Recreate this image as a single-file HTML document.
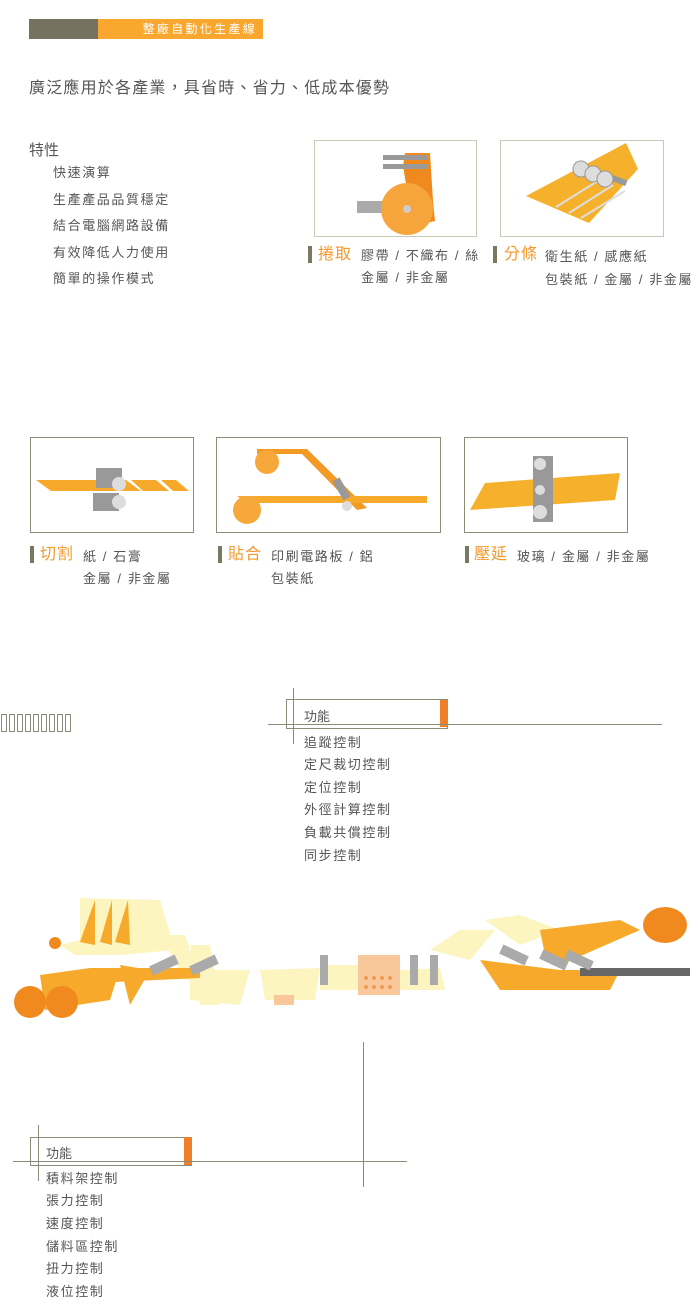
<!DOCTYPE html>
<html><head><meta charset="utf-8"><style>
body{margin:0;width:700px;height:1307px;background:#fff;position:relative;overflow:hidden;font-family:"Liberation Sans","Noto Sans CJK TC",sans-serif;color:#555}
.a{position:absolute;white-space:nowrap}
.s{font-size:13px;line-height:13px;letter-spacing:1.6px}
.box{position:absolute;border:1px solid #c9c9b9;background:#fff}
.box2{position:absolute;border:1px solid #8c8a78;background:#fff}
.bar{position:absolute;width:4px;height:17px;background:#7a7862}
.lab{position:absolute;font-size:16px;color:#f39a2e;line-height:17px;letter-spacing:1px}
.ln{position:absolute;background:#8c8a78}
</style></head><body>
<div class="a" style="left:29px;top:19px;width:69px;height:20px;background:#777160"></div>
<div class="a" style="left:98px;top:19px;width:165px;height:20px;background:#f9a72f;color:#fff;font-size:12px;line-height:20px;text-align:right;box-sizing:border-box;padding-right:6px;letter-spacing:2.3px">整廠自動化生產線</div>
<div class="a" style="left:29px;top:74px;font-size:16px;letter-spacing:1.2px">廣泛應用於各產業，具省時、省力、低成本優勢</div>
<div class="a" style="left:29px;top:139px;font-size:15px">特性</div>
<div class="a s" style="left:53px;top:166px">快速演算</div>
<div class="a s" style="left:53px;top:193px">生產產品品質穩定</div>
<div class="a s" style="left:53px;top:219px">結合電腦網路設備</div>
<div class="a s" style="left:53px;top:246px">有效降低人力使用</div>
<div class="a s" style="left:53px;top:272px">簡單的操作模式</div>

<div class="box" style="left:314px;top:140px;width:161px;height:95px">
<svg width="161" height="95"><polygon points="90,12 115,12 118,60 120,80 98,85 88,25" fill="#f08a1e"/><rect x="68" y="14" width="44" height="5" fill="#999"/><rect x="68" y="23" width="44" height="5" fill="#999"/><rect x="42" y="60" width="30" height="12" fill="#aaa"/><circle cx="92" cy="68" r="26" fill="#f6a53c"/><circle cx="92" cy="68" r="4" fill="#ccc"/></svg></div>
<div class="box" style="left:500px;top:140px;width:162px;height:95px">
<svg width="162" height="95"><polygon points="125,2 137,28 88,82 25,55" fill="#f6b12c"/><line x1="55" y1="66" x2="100" y2="38" stroke="#ddd" stroke-width="2"/><line x1="68" y1="72" x2="112" y2="44" stroke="#ddd" stroke-width="2"/><line x1="80" y1="77" x2="124" y2="50" stroke="#ddd" stroke-width="2"/><rect x="72" y="30" width="55" height="6" fill="#999" transform="rotate(20 100 33)"/><circle cx="80" cy="28" r="8" fill="#ddd" stroke="#999"/><circle cx="92" cy="33" r="8" fill="#ddd" stroke="#999"/><circle cx="104" cy="38" r="8" fill="#ddd" stroke="#999"/></svg></div>
<div class="bar" style="left:308px;top:246px"></div><div class="lab" style="left:318px;top:246px">捲取</div>
<div class="a s" style="left:361px;top:249px">膠帶 / 不織布 / 絲</div>
<div class="a s" style="left:361px;top:271px">金屬 / 非金屬</div>
<div class="bar" style="left:493px;top:246px"></div><div class="lab" style="left:504px;top:246px">分條</div>
<div class="a s" style="left:545px;top:250px">衛生紙 / 感應紙</div>
<div class="a s" style="left:545px;top:273px">包裝紙 / 金屬 / 非金屬</div>

<div class="box2" style="left:30px;top:437px;width:162px;height:94px">
<svg width="162" height="94"><polygon points="5,42 95,42 110,53 20,53" fill="#f6a92a"/><polygon points="100,42 125,42 138,53 112,53" fill="#f6a92a"/><polygon points="130,42 145,42 158,53 142,53" fill="#f6a92a"/><rect x="65" y="30" width="26" height="20" fill="#999"/><circle cx="88" cy="46" r="7" fill="#ddd"/><rect x="62" y="55" width="26" height="18" fill="#999"/><circle cx="88" cy="64" r="7" fill="#ddd"/></svg></div>
<div class="box2" style="left:216px;top:437px;width:223px;height:94px">
<svg width="223" height="94"><polygon points="40,11 90,11 150,70 140,72 85,16 40,16" fill="#f29a24"/><circle cx="50" cy="24" r="12" fill="#f6a83a"/><polygon points="20,58 130,58 210,58 210,65 30,65" fill="#f6a92a"/><circle cx="30" cy="72" r="14" fill="#f6a83a"/><rect x="120" y="40" width="8" height="22" fill="#999" transform="rotate(-30 124 50)"/><circle cx="130" cy="68" r="5" fill="#ddd"/></svg></div>
<div class="box2" style="left:464px;top:437px;width:162px;height:94px">
<svg width="162" height="94"><polygon points="20,45 155,35 150,62 5,72" fill="#f6b12c"/><rect x="68" y="18" width="20" height="66" fill="#999"/><circle cx="75" cy="26" r="6" fill="#ddd"/><circle cx="75" cy="52" r="5" fill="#ddd"/><circle cx="75" cy="74" r="7" fill="#ddd"/></svg></div>
<div class="bar" style="left:30px;top:546px"></div><div class="lab" style="left:40px;top:546px">切割</div>
<div class="a s" style="left:83px;top:550px">紙 / 石膏</div>
<div class="a s" style="left:83px;top:572px">金屬 / 非金屬</div>
<div class="bar" style="left:218px;top:546px"></div><div class="lab" style="left:228px;top:546px">貼合</div>
<div class="a s" style="left:271px;top:550px">印刷電路板 / 鋁</div>
<div class="a s" style="left:271px;top:572px">包裝紙</div>
<div class="bar" style="left:465px;top:546px"></div><div class="lab" style="left:474px;top:546px">壓延</div>
<div class="a s" style="left:517px;top:550px">玻璃 / 金屬 / 非金屬</div>

<svg class="a" style="left:0;top:712px" width="80" height="22"><g fill="none" stroke="#8c8a78" stroke-width="1"><rect x="1.5" y="2.5" width="5" height="17"/><rect x="9.5" y="2.5" width="5" height="17"/><rect x="17.5" y="2.5" width="5" height="17"/><rect x="25.5" y="2.5" width="5" height="17"/><rect x="33.5" y="2.5" width="5" height="17"/><rect x="41.5" y="2.5" width="5" height="17"/><rect x="49.5" y="2.5" width="5" height="17"/><rect x="57.5" y="2.5" width="5" height="17"/><rect x="65.5" y="2.5" width="5" height="17"/></g></svg>

<div class="box2" style="left:286px;top:699px;width:160px;height:28px"></div>
<div class="a" style="left:440px;top:700px;width:8px;height:27px;background:#f07f2c"></div>
<div class="ln" style="left:268px;top:724px;width:394px;height:1px"></div>
<div class="ln" style="left:293px;top:688px;width:1px;height:56px"></div>
<div class="a" style="left:304px;top:706px;font-size:13px">功能</div>
<div class="a s" style="left:304px;top:736px">追蹤控制</div>
<div class="a s" style="left:304px;top:758px">定尺裁切控制</div>
<div class="a s" style="left:304px;top:781px">定位控制</div>
<div class="a s" style="left:304px;top:803px">外徑計算控制</div>
<div class="a s" style="left:304px;top:826px">負載共償控制</div>
<div class="a s" style="left:304px;top:849px">同步控制</div>

<svg class="a" style="left:0;top:890px" width="700" height="150">
<g fill="#fdf5c0"><polygon points="60,55 80,50 80,8 160,10 175,60 120,65 75,65"/><polygon points="160,45 185,45 200,90 185,90"/><polygon points="190,55 210,55 220,115 200,115"/><polygon points="190,80 250,80 240,115 190,110"/><polygon points="260,80 320,78 315,110 265,110"/><polygon points="320,75 360,75 358,100 320,100"/><polygon points="400,80 440,78 445,100 400,100"/><polygon points="430,60 460,40 495,40 470,70"/><polygon points="485,30 520,25 560,40 520,55"/></g>
<g fill="#f6a92a"><polygon points="80,52 95,10 95,55"/><polygon points="100,52 112,10 112,55"/><polygon points="115,52 128,10 130,55"/><polygon points="40,85 90,78 120,78 110,110 45,120"/><polygon points="120,75 150,80 130,115"/><polygon points="110,78 200,78 200,88 115,92"/><polygon points="480,70 560,80 620,80 610,100 500,100"/><polygon points="540,40 580,35 620,30 640,40 560,75 545,65"/></g>
<g fill="#f08a1e"><circle cx="30" cy="112" r="16"/><circle cx="62" cy="112" r="16"/><ellipse cx="665" cy="35" rx="22" ry="18"/><circle cx="55" cy="53" r="6"/></g>
<rect x="358" y="65" width="42" height="40" fill="#f9c89a"/>
<g fill="#ec9a50"><circle cx="366" cy="88" r="2"/><circle cx="374" cy="88" r="2"/><circle cx="382" cy="88" r="2"/><circle cx="390" cy="88" r="2"/><circle cx="366" cy="97" r="2"/><circle cx="374" cy="97" r="2"/><circle cx="382" cy="97" r="2"/><circle cx="390" cy="97" r="2"/></g>
<rect x="274" y="105" width="20" height="10" fill="#f9c89a"/>
<g fill="#666"><rect x="580" y="78" width="110" height="8"/></g>
<g fill="#aaa"><rect x="150" y="70" width="28" height="10" transform="rotate(-25 164 75)"/><rect x="190" y="70" width="28" height="10" transform="rotate(-25 204 75)"/><rect x="500" y="60" width="28" height="10" transform="rotate(25 514 65)"/><rect x="540" y="65" width="28" height="10" transform="rotate(25 554 70)"/><rect x="565" y="65" width="28" height="10" transform="rotate(25 579 70)"/><rect x="320" y="65" width="8" height="30"/><rect x="410" y="65" width="8" height="30"/><rect x="430" y="65" width="8" height="30"/></g>
</svg>
<div class="ln" style="left:363px;top:1042px;width:1px;height:145px"></div>

<div class="box2" style="left:30px;top:1137px;width:160px;height:27px"></div>
<div class="a" style="left:184px;top:1137px;width:8px;height:28px;background:#f07f2c"></div>
<div class="ln" style="left:13px;top:1161px;width:394px;height:1px"></div>
<div class="ln" style="left:38px;top:1125px;width:1px;height:56px"></div>
<div class="a" style="left:46px;top:1143px;font-size:13px">功能</div>
<div class="a s" style="left:46px;top:1172px">積料架控制</div>
<div class="a s" style="left:46px;top:1194px">張力控制</div>
<div class="a s" style="left:46px;top:1217px">速度控制</div>
<div class="a s" style="left:46px;top:1240px">儲料區控制</div>
<div class="a s" style="left:46px;top:1262px">扭力控制</div>
<div class="a s" style="left:46px;top:1285px">液位控制</div>
</body></html>
